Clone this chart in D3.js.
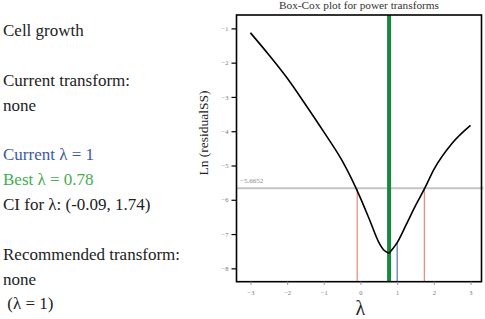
<!DOCTYPE html>
<html>
<head>
<meta charset="utf-8">
<script src="https://cdn.jsdelivr.net/npm/d3@7"></script>
<style>
  body { margin: 0; background: #fff; }
  text { font-family: "Liberation Serif", serif; }
</style>
</head>
<body>
<div id="chart"></div>
<script>
let width = 485,
    height = 319;

// box-cox curve
let lambdas = [-3, -2.5, -2, -1.5, -1, -0.5, 0, 0.25, 0.5, 0.65, 0.78, 1, 1.25, 1.5, 1.75, 2, 2.5, 3];
let lnRss = [-1.13, -1.77, -2.45, -3.22, -4.02, -4.86, -5.95, -6.59, -7.24, -7.48, -7.56, -7.25, -6.72, -6.17, -5.67, -5.12, -4.35, -3.83];

let xTicks = [-3, -2, -1, 0, 1, 2, 3];
let yTicks = [-1, -2, -3, -4, -5, -6, -7, -8];

let bestLambda = 0.78,
    currentLambda = 1,
    ciLow = -0.09,
    ciHigh = 1.74,
    cutoff = -5.6652;

let infoLines = [
  { t: "Cell growth", c: "#222" },
  { t: "", c: "#222" },
  { t: "Current transform:", c: "#222" },
  { t: "none", c: "#222" },
  { t: "", c: "#222" },
  { t: "Current λ = 1", c: "#3b58a6" },
  { t: "Best λ = 0.78", c: "#45ad4f" },
  { t: "CI for λ: (-0.09, 1.74)", c: "#222" },
  { t: "", c: "#222" },
  { t: "Recommended transform:", c: "#222" },
  { t: "none", c: "#222" },
  { t: " (λ = 1)", c: "#222" }
];

let svg = d3.select("#chart")
  .append("svg")
  .attr("width", width)
  .attr("height", height);

let x = d3.scaleLinear()
  .domain([-3.38, 3.3])
  .range([236.5, 481.5]);

let y = d3.scaleLinear()
  .domain([-8.39, -0.61])
  .range([281.7, 15]);

// left panel text
svg.append("g").selectAll("text")
  .data(infoLines)
  .enter().append("text")
  .attr("x", 3)
  .attr("y", (d, i) => 36 + i * 24.85)
  .attr("font-size", 17)
  .attr("fill", d => d.c)
  .attr("xml:space", "preserve")
  .style("white-space", "pre")
  .text(d => d.t);

// title
svg.append("text")
  .attr("x", (x.range()[0] + x.range()[1]) / 2)
  .attr("y", 9)
  .attr("text-anchor", "middle")
  .attr("font-size", 11.3)
  .attr("fill", "#333")
  .text("Box-Cox plot for power transforms");

// cutoff line
svg.append("line")
  .attr("x1", x.range()[0])
  .attr("x2", x.range()[1] + 2)
  .attr("y1", y(cutoff))
  .attr("y2", y(cutoff))
  .attr("stroke", "#c4c4c4")
  .attr("stroke-width", 2);

svg.append("text")
  .attr("x", x.range()[0] + 3.5)
  .attr("y", y(cutoff) - 5)
  .attr("font-size", 7)
  .attr("fill", "#888")
  .text("\u22125.6652");

// CI lines
svg.append("g").selectAll("line")
  .data([ciLow, ciHigh])
  .enter().append("line")
  .attr("x1", d => x(d))
  .attr("x2", d => x(d))
  .attr("y1", y(cutoff))
  .attr("y2", y.range()[0])
  .attr("stroke", "#e0705e")
  .attr("stroke-width", 1);

// current lambda line
let curIdx = lambdas.indexOf(currentLambda);
svg.append("line")
  .attr("x1", x(currentLambda))
  .attr("x2", x(currentLambda))
  .attr("y1", y(lnRss[curIdx]))
  .attr("y2", y.range()[0])
  .attr("stroke", "#3b58a6")
  .attr("stroke-width", 1);

// best lambda line
svg.append("line")
  .attr("x1", x(bestLambda))
  .attr("x2", x(bestLambda))
  .attr("y1", y.range()[1])
  .attr("y2", y.range()[0])
  .attr("stroke", "#17893f")
  .attr("stroke-width", 4);

// curve: two smooth halves meeting at the minimum (sharp kink there)
let pts = lambdas.map((l, i) => [l, lnRss[i]]);
let minIdx = lambdas.indexOf(bestLambda);
let halves = [pts.slice(0, minIdx + 1), pts.slice(minIdx)];

let line = d3.line()
  .x(d => x(d[0]))
  .y(d => y(d[1]))
  .curve(d3.curveMonotoneX);

svg.append("g").selectAll("path")
  .data(halves)
  .enter().append("path")
  .attr("d", line)
  .attr("fill", "none")
  .attr("stroke", "#000")
  .attr("stroke-width", 1.6)
  .attr("stroke-linejoin", "round");

// frame
svg.append("rect")
  .attr("x", x.range()[0])
  .attr("y", y.range()[1])
  .attr("width", x.range()[1] - x.range()[0])
  .attr("height", y.range()[0] - y.range()[1])
  .attr("fill", "none")
  .attr("stroke", "#000")
  .attr("stroke-width", 1.6);

// axes
let fmt = d => d < 0 ? "\u2212" + Math.abs(d) : String(d);

let xAxis = svg.append("g")
  .attr("transform", `translate(0,${y.range()[0]})`)
  .call(d3.axisBottom(x).tickValues(xTicks).tickFormat(fmt).tickSize(3).tickPadding(6));

let yAxis = svg.append("g")
  .attr("transform", `translate(${x.range()[0]},0)`)
  .call(d3.axisLeft(y).tickValues(yTicks).tickFormat(fmt).tickSize(5).tickPadding(3));

[xAxis, yAxis].forEach(a => {
  a.select(".domain").remove();
  a.selectAll("line").attr("stroke", "#000").attr("stroke-width", 1.2);
  a.selectAll("text")
    .attr("font-family", "Liberation Serif, serif")
    .attr("font-size", 6.5)
    .attr("fill", "#777");
});
xAxis.selectAll("line").attr("stroke", "#999");

// axis titles
svg.append("text")
  .attr("x", x(0))
  .attr("y", 315)
  .attr("text-anchor", "middle")
  .attr("font-size", 20)
  .attr("fill", "#222")
  .text("λ");

svg.append("text")
  .attr("transform", "translate(208,133) rotate(-90)")
  .attr("text-anchor", "middle")
  .attr("font-size", 13.5)
  .attr("fill", "#222")
  .text("Ln (residualSS)");
</script>
</body>
</html>
